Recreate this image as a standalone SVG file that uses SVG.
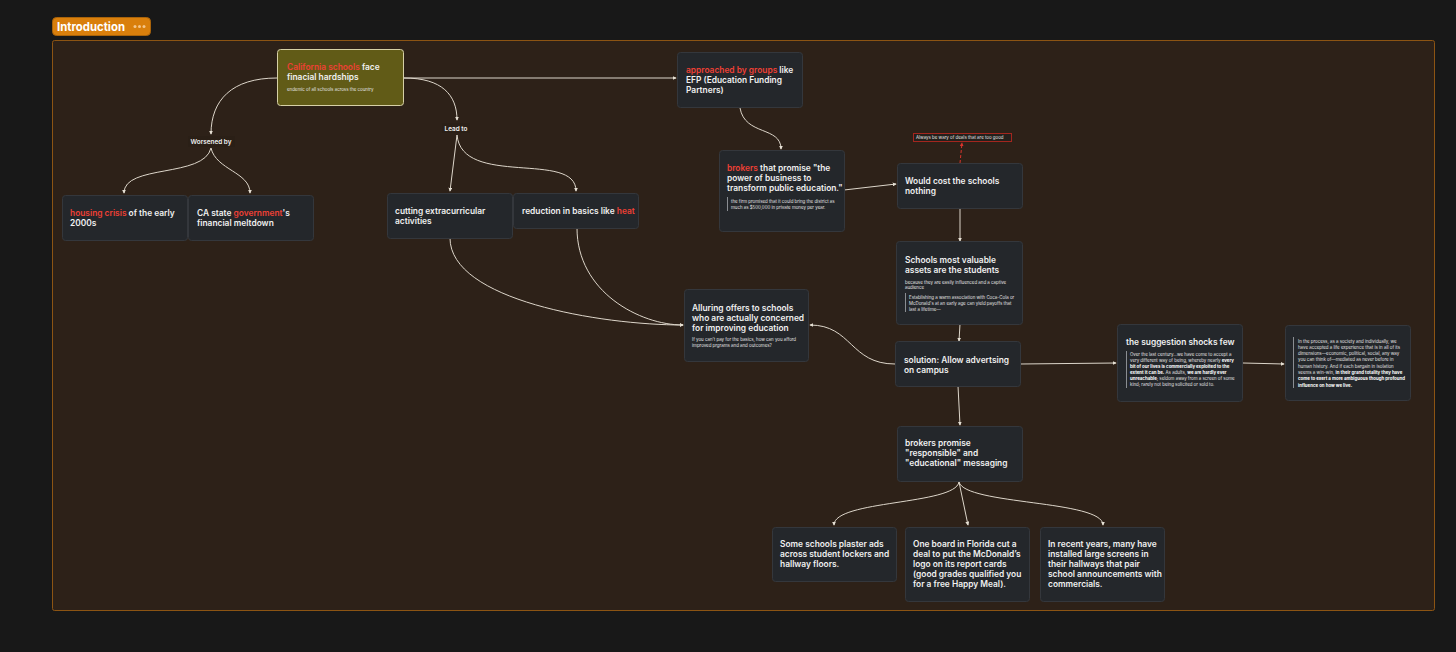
<svg xmlns="http://www.w3.org/2000/svg" width="1456" height="652" viewBox="0 0 1456 652">
<defs>
<marker id="arr" viewBox="0 0 6 6" refX="5" refY="3" markerWidth="4" markerHeight="4" orient="auto-start-reverse">
<path d="M0,0 L6,3 L0,6 z" fill="#e6e0d4"/>
</marker>
<marker id="arrRed" viewBox="0 0 6 6" refX="5" refY="3" markerWidth="4" markerHeight="4" orient="auto">
<path d="M0,0 L6,3 L0,6 z" fill="#d8342c"/>
</marker>
<style>
.node{fill:#24272b;stroke:#34373c;stroke-width:1}
.t{font-family:Inter,"Noto Sans","Liberation Sans",sans-serif;font-weight:600;font-size:8.4px;fill:#f0f0f0}
.r{fill:#ee4035}
.s{font-family:Inter,"Noto Sans","Liberation Sans",sans-serif;font-weight:400;font-size:4.4px;fill:#e4e4e4}
.b{font-weight:700;fill:#ffffff}
.lbl{font-family:Inter,"Noto Sans","Liberation Sans",sans-serif;font-weight:600;font-size:6.4px;fill:#f0f0f0}
.c{fill:none;stroke:#ddd6ca;stroke-width:1}
.bar{fill:#8a8d92}
</style>
</defs>
<rect x="0" y="0" width="1456" height="652" fill="#181818"/>
<rect x="52.5" y="40.5" width="1382" height="570" rx="2" fill="#2d2118" stroke="#8c5413" stroke-width="1"/>
<g id="title">
<rect x="52.5" y="17.5" width="98" height="18" rx="4" fill="#d97f0c" stroke="#a9630a"/>
<text x="57" y="31" font-family="Inter,'Liberation Sans',sans-serif" font-weight="700" font-size="12" fill="#ffffff" textLength="68" lengthAdjust="spacingAndGlyphs">Introduction</text>
<circle cx="135" cy="26.5" r="1.5" fill="#f3c58a"/>
<circle cx="139.5" cy="26.5" r="1.5" fill="#f3c58a"/>
<circle cx="144" cy="26.5" r="1.5" fill="#f3c58a"/>
</g>
<g id="connectors">
<path class="c" d="M277,78 C232,78 211,100 211,134" marker-end="url(#arr)"/>
<path class="c" d="M211,148 C204,178 124,164 124,193" marker-end="url(#arr)"/>
<path class="c" d="M211,148 C216,170 250,172 250,193" marker-end="url(#arr)"/>
<path class="c" d="M404,78 C442,78 457,95 457,120" marker-end="url(#arr)"/>
<path class="c" d="M404,78 L676,78" marker-end="url(#arr)"/>
<path class="c" d="M457,135 L450,191" marker-end="url(#arr)"/>
<path class="c" d="M457,135 C462,188 576,150 576,191" marker-end="url(#arr)"/>
<path class="c" d="M450,238 C450,300 600,325 683,325" marker-end="url(#arr)"/>
<path class="c" d="M577,228 C577,292 640,325 683,325" marker-end="url(#arr)"/>
<path class="c" d="M895,364 C850,364 852,325 810,325" marker-end="url(#arr)"/>
<path class="c" d="M740,108 C745,136 781,126 781,149" marker-end="url(#arr)"/>
<path class="c" d="M844,190 L896,184" marker-end="url(#arr)"/>
<path d="M960,163 L962,143" fill="none" stroke="#d8342c" stroke-width="1" stroke-dasharray="3,2" marker-end="url(#arrRed)"/>
<path class="c" d="M960,208 L960,241" marker-end="url(#arr)"/>
<path class="c" d="M960,324 L959,341" marker-end="url(#arr)"/>
<path class="c" d="M958,386 L960,425" marker-end="url(#arr)"/>
<path class="c" d="M1020,364 L1116,363" marker-end="url(#arr)"/>
<path class="c" d="M1243,363 L1284,364" marker-end="url(#arr)"/>
<path class="c" d="M959,482 C955,505 834,500 834,525" marker-end="url(#arr)"/>
<path class="c" d="M959,482 L968,525" marker-end="url(#arr)"/>
<path class="c" d="M959,482 C965,505 1103,500 1103,525" marker-end="url(#arr)"/>
</g>
<g id="label-worsened">
<rect x="188" y="136" width="47" height="11" fill="#2a1f16"/>
<text class="lbl" x="211" y="143.5" text-anchor="middle">Worsened by</text>
</g>
<g id="label-leadto">
<rect x="442" y="123" width="28" height="10" fill="#2a1f16"/>
<text class="lbl" x="456" y="130.5" text-anchor="middle">Lead to</text>
</g>
<g id="n-california">
<rect x="277.5" y="49.5" width="126" height="56" rx="3" fill="#615b17" stroke="#d6d0a6" stroke-width="1"/>
<text class="t" x="287" y="70"><tspan class="r">California schools</tspan> face</text>
<text class="t" x="287" y="80">finacial hardships</text>
<text class="s" x="287" y="90.5">endemic of all schools across the country</text>
</g>
<g id="n-approached">
<rect class="node" x="677.5" y="52.5" width="125" height="55" rx="3"/>
<text class="t" x="686" y="73"><tspan class="r">approached by groups</tspan> like</text>
<text class="t" x="686" y="83">EFP (Education Funding</text>
<text class="t" x="686" y="93">Partners)</text>
</g>
<g id="n-brokers">
<rect class="node" x="719.5" y="150.5" width="125" height="81" rx="3"/>
<text class="t" x="727" y="171"><tspan class="r">brokers</tspan> that promise "the</text>
<text class="t" x="727" y="181">power of business to</text>
<text class="t" x="727" y="191">transform public education."</text>
<rect class="bar" x="727" y="197" width="1" height="14"/>
<text class="s" x="731" y="202.5">the firm promised that it could bring the district as</text>
<text class="s" x="731" y="208.5">much as $500,000 in private money per year.</text>
</g>
<g id="n-tooltip">
<rect x="913.5" y="133.5" width="98" height="8" fill="#24201c" stroke="#a3261e" stroke-width="1"/>
<text class="s" x="916" y="139">Always be wary of deals that are too good</text>
</g>
<g id="n-wouldcost">
<rect class="node" x="897.5" y="163.5" width="125" height="45" rx="3"/>
<text class="t" x="905" y="184">Would cost the schools</text>
<text class="t" x="905" y="194">nothing</text>
</g>
<g id="n-assets">
<rect class="node" x="896.5" y="241.5" width="126" height="83" rx="3"/>
<text class="t" x="905" y="263">Schools most valuable</text>
<text class="t" x="905" y="273">assets are the students</text>
<text class="s" x="905" y="283.5">because they are easily influenced and a captive</text>
<text class="s" x="905" y="289">audience</text>
<rect class="bar" x="905" y="293" width="1" height="19"/>
<text class="s" x="909" y="298.5">Establishing a warm association with Coca-Cola or</text>
<text class="s" x="909" y="304.5">McDonald's at an early age can yield payoffs that</text>
<text class="s" x="909" y="310.5">last a lifetime—</text>
</g>
<g id="n-solution">
<rect class="node" x="895.5" y="341.5" width="125" height="45" rx="3"/>
<text class="t" x="904" y="363">solution: Allow advertsing</text>
<text class="t" x="904" y="373">on campus</text>
</g>
<g id="n-alluring">
<rect class="node" x="684.5" y="289.5" width="124" height="72" rx="3"/>
<text class="t" x="692" y="311">Alluring offers to schools</text>
<text class="t" x="692" y="321">who are actually concerned</text>
<text class="t" x="692" y="331">for improving education</text>
<text class="s" x="692" y="340.5">If you can't pay for the basics, how can you afford</text>
<text class="s" x="692" y="346.5">improved prgrams and and outcomes?</text>
</g>
<g id="n-shocks">
<rect class="node" x="1117.5" y="324.5" width="125" height="77" rx="3"/>
<text class="t" x="1126" y="345">the suggestion shocks few</text>
<rect class="bar" x="1126" y="351" width="1" height="37"/>
<text class="s" x="1130" y="355.5">Over the last century...we have come to accept a</text>
<text class="s" x="1130" y="361.5">very different way of being, whereby nearly <tspan class="b">every</tspan></text>
<text class="s b" x="1130" y="367.5">bit of our lives is commercially exploited to the</text>
<text class="s" x="1130" y="373.5"><tspan class="b">extent it can be.</tspan> As adults, <tspan class="b">we are hardly ever</tspan></text>
<text class="s" x="1130" y="379.5"><tspan class="b">unreachable</tspan>; seldom away from a screen of some</text>
<text class="s" x="1130" y="385.5">kind; rarely not being solicited or sold to.</text>
</g>
<g id="n-process">
<rect class="node" x="1285.5" y="325.5" width="125" height="75" rx="3"/>
<rect class="bar" x="1293" y="337" width="1" height="51"/>
<text class="s" x="1298" y="342.5">In the process, as a society and individually, we</text>
<text class="s" x="1298" y="348.8">have accepted a life experience that is in all of its</text>
<text class="s" x="1298" y="355.1">dimensions—economic, political, social, any way</text>
<text class="s" x="1298" y="361.4">you can think of—mediated as never before in</text>
<text class="s" x="1298" y="367.7">human history. And if each bargain in isolation</text>
<text class="s" x="1298" y="374">seems a win-win, <tspan class="b">in their grand totality they have</tspan></text>
<text class="s b" x="1298" y="380.3">come to exert a more ambiguous though profound</text>
<text class="s b" x="1298" y="386.6">influence on how we live.</text>
</g>
<g id="n-housing">
<rect class="node" x="62.5" y="195.5" width="125" height="45" rx="3"/>
<text class="t" x="70" y="216"><tspan class="r">housing crisis</tspan> of the early</text>
<text class="t" x="70" y="226">2000s</text>
</g>
<g id="n-castate">
<rect class="node" x="188.5" y="195.5" width="125" height="45" rx="3"/>
<text class="t" x="197" y="216">CA state <tspan class="r">government</tspan>'s</text>
<text class="t" x="197" y="226">financial meltdown</text>
</g>
<g id="n-cutting">
<rect class="node" x="387.5" y="193.5" width="125" height="45" rx="3"/>
<text class="t" x="395" y="214">cutting extracurricular</text>
<text class="t" x="395" y="224">activities</text>
</g>
<g id="n-reduction">
<rect class="node" x="513.5" y="193.5" width="125" height="35" rx="3"/>
<text class="t" x="522" y="214">reduction in basics like <tspan class="r">heat</tspan></text>
</g>
<g id="n-brokerspromise">
<rect class="node" x="897.5" y="426.5" width="125" height="55" rx="3"/>
<text class="t" x="905" y="446">brokers promise</text>
<text class="t" x="905" y="456">"responsible" and</text>
<text class="t" x="905" y="466">"educational" messaging</text>
</g>
<g id="n-some">
<rect class="node" x="772.5" y="527.5" width="124" height="54" rx="3"/>
<text class="t" x="780" y="547">Some schools plaster ads</text>
<text class="t" x="780" y="557">across student lockers and</text>
<text class="t" x="780" y="567">hallway floors.</text>
</g>
<g id="n-florida">
<rect class="node" x="905.5" y="527.5" width="124" height="74" rx="3"/>
<text class="t" x="913" y="547">One board in Florida cut a</text>
<text class="t" x="913" y="557">deal to put the McDonald’s</text>
<text class="t" x="913" y="567">logo on its report cards</text>
<text class="t" x="913" y="577">(good grades qualified you</text>
<text class="t" x="913" y="587">for a free Happy Meal).</text>
</g>
<g id="n-screens">
<rect class="node" x="1040.5" y="527.5" width="124" height="74" rx="3"/>
<text class="t" x="1048" y="547">In recent years, many have</text>
<text class="t" x="1048" y="557">installed large screens in</text>
<text class="t" x="1048" y="567">their hallways that pair</text>
<text class="t" x="1048" y="577">school announcements with</text>
<text class="t" x="1048" y="587">commercials.</text>
</g>
</svg>
